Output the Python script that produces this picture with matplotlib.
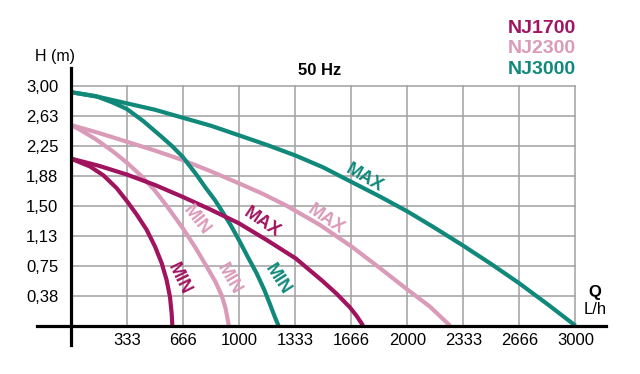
import matplotlib
matplotlib.use("Agg")
import matplotlib.pyplot as plt

plt.rcParams["font.family"] = ["Liberation Sans", "DejaVu Sans"]

# 数据：Q (L/h) - H (m) 点
q_ticks = [333.33, 666.67, 1000, 1333.33, 1666.67, 2000, 2333.33, 2666.67, 3000]
q_labels = ["333", "666", "1000", "1333", "1666", "2000", "2333", "2666", "3000"]
h_ticks = [0.375, 0.75, 1.125, 1.5, 1.875, 2.25, 2.625, 3.0]
h_labels = ["0,38", "0,75", "1,13", "1,50", "1,88", "2,25", "2,63", "3,00"]

nj1700_max_q = [0, 166, 333, 500, 666, 833, 1000, 1166, 1338, 1496, 1580, 1659, 1700, 1738]
nj1700_max_h = [2.09, 2.00, 1.89, 1.76, 1.61, 1.45, 1.28, 1.07, 0.84, 0.56, 0.40, 0.23, 0.12, 0.0]
nj1700_min_q = [0, 115, 194, 273, 333, 392, 451, 501, 541, 570, 590, 600, 604]
nj1700_min_h = [2.09, 1.99, 1.88, 1.72, 1.56, 1.39, 1.20, 0.99, 0.78, 0.57, 0.36, 0.15, 0.0]

nj2300_max_q = [0, 166, 333, 500, 666, 833, 1000, 1140, 1283, 1481, 1669, 1838, 2002, 2134, 2255]
nj2300_max_h = [2.51, 2.41, 2.30, 2.19, 2.07, 1.93, 1.78, 1.65, 1.50, 1.26, 0.99, 0.72, 0.45, 0.24, 0.0]
nj2300_min_q = [0, 55, 150, 250, 333, 421, 500, 570, 666, 740, 808, 860, 897, 920, 940]
nj2300_min_h = [2.51, 2.45, 2.33, 2.18, 2.04, 1.87, 1.69, 1.50, 1.22, 0.98, 0.74, 0.55, 0.38, 0.22, 0.0]

nj3000_max_q = [0, 166, 333, 500, 666, 833, 1000, 1166, 1333, 1500, 1666, 1833, 2000,
                2166, 2333, 2500, 2666, 2833, 3000]
nj3000_max_h = [2.92, 2.86, 2.78, 2.70, 2.60, 2.50, 2.38, 2.26, 2.13, 1.98, 1.80, 1.62, 1.43,
                1.22, 1.00, 0.77, 0.53, 0.27, 0.0]
nj3000_min_q = [0, 150, 250, 333, 430, 530, 600, 666, 750, 800, 857, 900, 950, 1000,
                1050, 1105, 1150, 1184, 1215, 1235]
nj3000_min_h = [2.92, 2.87, 2.79, 2.71, 2.56, 2.38, 2.25, 2.11, 1.88, 1.73, 1.57, 1.43, 1.26, 1.07,
                0.87, 0.655, 0.45, 0.27, 0.10, 0.0]

c1700 = "#A0135F"
c2300 = "#DA9BB9"
c3000 = "#10897B"

fig = plt.figure(figsize=(6.4, 3.74), dpi=100)
ax = fig.add_axes([0.1105, 0.1291, 0.7887, 0.6417])
ax.set_xlim(0, 3000)
ax.set_ylim(0, 3.0)

# 网格
ax.set_xticks(q_ticks)
ax.set_xticklabels(q_labels, fontsize=12)
ax.set_yticks(h_ticks)
ax.set_yticklabels(h_labels, fontsize=12)
ax.tick_params(axis="x", length=0, pad=5)
ax.tick_params(axis="y", length=0, pad=9)
ax.grid(True, color="#a0a0a0", linewidth=1.1)
for gl in ax.get_xgridlines() + ax.get_ygridlines():
    gl.set_clip_on(False)
for s in ax.spines.values():
    s.set_visible(False)

lw = 3.0
style = dict(lw=lw, clip_on=False, solid_joinstyle="round", solid_capstyle="butt")
ax.plot(nj1700_max_q, nj1700_max_h, color=c1700, zorder=3, **style)
ax.plot(nj1700_min_q, nj1700_min_h, color=c1700, zorder=3, **style)
ax.plot(nj2300_max_q, nj2300_max_h, color=c2300, zorder=2.5, **style)
ax.plot(nj2300_min_q, nj2300_min_h, color=c2300, zorder=2.5, **style)
ax.plot(nj3000_max_q, nj3000_max_h, color=c3000, zorder=2.8, **style)
ax.plot(nj3000_min_q, nj3000_min_h, color=c3000, zorder=2.8, **style)

# 坐标轴（黑色粗线）
ax.plot([-200, 3180], [0, 0], color="black", lw=2.3, clip_on=False, zorder=5)
ax.plot([0, 0], [-0.24, 3.22], color="black", lw=2.3, clip_on=False, zorder=5)

# 曲线标注
lab = dict(fontsize=13, fontweight="bold", ha="center", va="center",
           rotation_mode="anchor", zorder=4)
ax.text(1748, 1.84, "MAX", color=c3000, rotation=-30, **lab)
ax.text(1516, 1.33, "MAX", color=c2300, rotation=-34, **lab)
ax.text(1139, 1.29, "MAX", color=c1700, rotation=-34, **lab)
ax.text(748, 1.32, "MIN", color=c2300, rotation=-52, **lab)
ax.text(942, 0.58, "MIN", color=c2300, rotation=-60, **lab)
ax.text(645, 0.58, "MIN", color=c1700, rotation=-64, **lab)
ax.text(1231, 0.58, "MIN", color=c3000, rotation=-57, **lab)

fig.text(0.0867, 0.8484, "H (m)", fontsize=11.5, ha="center", va="center")
fig.text(0.4656, 0.8128, "50 Hz", fontsize=12, fontweight="bold", ha="left", va="center")
fig.text(0.9, 0.925, "NJ1700", color=c1700, fontsize=14, fontweight="bold", ha="right", va="center")
fig.text(0.9, 0.869, "NJ2300", color=c2300, fontsize=14, fontweight="bold", ha="right", va="center")
fig.text(0.9, 0.8155, "NJ3000", color=c3000, fontsize=14, fontweight="bold", ha="right", va="center")
fig.text(0.930, 1 - 292 / 374, "Q", fontsize=12, fontweight="bold", ha="center", va="center")
fig.text(0.930, 1 - 310 / 374, "L/h", fontsize=12, ha="center", va="center")

fig.savefig("out.png", dpi=100)
plt.close(fig)
